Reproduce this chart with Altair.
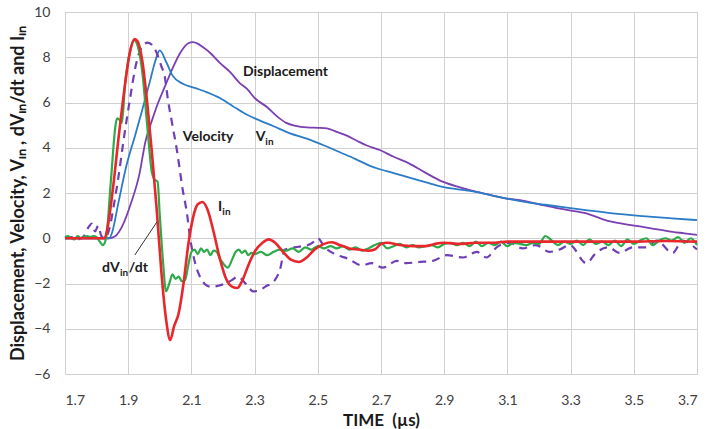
import altair as alt
import pandas as pd

# ---------------- data ----------------
disp_t = [1.70, 1.75, 1.80, 1.84, 1.86, 1.88, 1.91, 1.935, 1.955, 1.975, 1.995, 2.016, 2.04, 2.065,
          2.09, 2.105, 2.12, 2.136, 2.159, 2.19, 2.222, 2.253, 2.276, 2.30, 2.339, 2.37, 2.40, 2.43,
          2.465, 2.50, 2.529, 2.56, 2.59, 2.625, 2.655, 2.696, 2.74, 2.79, 2.84, 2.895, 2.95, 3.003,
          3.05, 3.10, 3.14, 3.20, 3.25, 3.288, 3.35, 3.40, 3.433, 3.48, 3.528, 3.58, 3.623, 3.66, 3.70]
disp_v = [0.0, 0.0, 0.0, 0.0, 0.1, 0.5, 1.6, 2.8, 4.3, 5.2, 6.0, 6.7, 7.5, 8.2,
          8.62, 8.67, 8.6, 8.45, 8.2, 7.75, 7.35, 6.86, 6.6, 6.2, 5.8, 5.4, 5.1, 4.97,
          4.9, 4.88, 4.86, 4.7, 4.55, 4.3, 4.1, 3.9, 3.6, 3.3, 2.9, 2.5, 2.25, 2.05,
          1.9, 1.75, 1.68, 1.5, 1.35, 1.25, 1.1, 0.85, 0.72, 0.6, 0.5, 0.38, 0.28, 0.22, 0.15]

vin_t = [1.70, 1.75, 1.80, 1.84, 1.85, 1.868, 1.896, 1.921, 1.945, 1.97, 1.985, 2.0, 2.02, 2.04,
         2.07, 2.11, 2.15, 2.19, 2.23, 2.27, 2.317, 2.36, 2.41, 2.465, 2.52, 2.57, 2.62, 2.665,
         2.696, 2.74, 2.79, 2.84, 2.895, 2.95, 3.0, 3.05, 3.107, 3.16, 3.22, 3.288, 3.36, 3.433,
         3.528, 3.62, 3.70]
vin_v = [0.0, 0.0, 0.0, 0.0, 0.3, 1.5, 3.3, 4.5, 5.7, 7.0, 7.8, 8.3, 7.8, 7.2,
         6.85, 6.65, 6.45, 6.2, 5.85, 5.5, 5.2, 4.95, 4.65, 4.4, 4.1, 3.8, 3.5, 3.2,
         3.05, 2.88, 2.68, 2.48, 2.27, 2.15, 2.05, 1.9, 1.73, 1.6, 1.48, 1.35, 1.22, 1.1,
         0.98, 0.88, 0.8]

vel_t = [1.70, 1.72, 1.74, 1.76, 1.775, 1.785, 1.795, 1.805, 1.815, 1.825, 1.84, 1.855, 1.868,
         1.885, 1.905, 1.925, 1.945, 1.962, 1.975, 1.99, 2.005, 2.015, 2.026, 2.04, 2.054, 2.073,
         2.086, 2.095, 2.11, 2.133, 2.15, 2.165, 2.185, 2.206, 2.228, 2.247, 2.265, 2.28, 2.295,
         2.315, 2.333, 2.364, 2.38, 2.396, 2.427, 2.469, 2.488, 2.50, 2.522, 2.554, 2.595, 2.64,
         2.67, 2.706, 2.75, 2.78, 2.82, 2.864, 2.908, 2.96, 3.003, 3.034, 3.066, 3.107, 3.148,
         3.19, 3.233, 3.265, 3.297, 3.35, 3.38, 3.42, 3.455, 3.496, 3.54, 3.572, 3.623, 3.654, 3.70]
vel_v = [0.0, 0.05, -0.05, 0.1, 0.5, 0.65, 0.3, 0.55, 0.1, 0.0, 0.4, 1.5, 2.6,
         4.3, 6.1, 7.7, 8.5, 8.65, 8.55, 8.2, 7.6, 7.2, 6.1, 5.0, 3.9, 2.1,
         1.1, 0.1, -1.0, -1.85, -2.1, -2.15, -2.1, -2.0, -1.85, -1.7, -1.9, -2.15, -2.35,
         -2.3, -2.15, -1.85, -1.4, -0.5, -0.4, -0.3, -0.15, 0.0, -0.4, -0.7, -0.9, -1.2,
         -1.1, -1.3, -1.0, -1.1, -1.05, -1.0, -0.75, -0.85, -0.6, -0.85, -0.4, -0.2, -0.45,
         -0.3, -0.6, -0.5, -0.3, -1.1, -0.65, -0.4, -0.65, -0.4, -0.4, -0.1, -0.65, -0.1, -0.5]

dvdt_t = [1.70, 1.71, 1.72, 1.73, 1.74, 1.75, 1.76, 1.77, 1.78, 1.79, 1.80, 1.81, 1.82, 1.83,
          1.845, 1.86, 1.865, 1.875, 1.88, 1.89, 1.905, 1.92, 1.93, 1.945, 1.96, 1.975, 1.983,
          1.993, 2.0, 2.01, 2.02, 2.03, 2.04, 2.05, 2.06, 2.07, 2.08, 2.09, 2.10, 2.11, 2.12,
          2.13, 2.14, 2.15, 2.16, 2.17, 2.18, 2.19, 2.20, 2.215, 2.23, 2.24, 2.25, 2.26, 2.27,
          2.28, 2.29, 2.30, 2.32, 2.34, 2.36, 2.38, 2.40, 2.42, 2.44, 2.46, 2.48, 2.50, 2.52,
          2.54, 2.56, 2.58, 2.60, 2.62, 2.64, 2.66, 2.68, 2.70, 2.72, 2.74, 2.76, 2.78, 2.80,
          2.82, 2.84, 2.86, 2.88, 2.90, 2.92, 2.94, 2.96, 2.98, 3.00, 3.02, 3.04, 3.06, 3.08,
          3.10, 3.12, 3.14, 3.16, 3.18, 3.20, 3.22, 3.24, 3.26, 3.28, 3.30, 3.32, 3.34, 3.36,
          3.38, 3.40, 3.42, 3.44, 3.46, 3.48, 3.50, 3.52, 3.54, 3.56, 3.58, 3.60, 3.62, 3.64,
          3.66, 3.68, 3.70]
dvdt_v = [0.05, 0.1, 0.0, -0.05, 0.1, 0.0, 0.05, 0.1, 0.05, 0.1, 0.05, -0.15, -0.3, 0.0,
          2.5, 5.0, 5.3, 5.2, 5.1, 6.8, 8.2, 8.75, 8.5, 7.3, 5.0, 2.9, 2.6,
          2.5, 1.0, -1.0, -2.35, -2.0, -1.6, -1.8, -1.7, -1.9, -1.85, -1.2, -0.6, -0.5, -0.7,
          -0.45, -0.6, -0.5, -0.75, -0.55, -0.6, -0.9, -1.1, -1.3, -0.9, -0.6, -0.5, -0.65, -0.55,
          -0.75, -0.65, -0.7, -0.6, -0.75, -0.6, -0.5, -0.55, -0.45, -0.6, -0.4, -0.5, -0.35, -0.45,
          -0.35, -0.45, -0.35, -0.5, -0.4, -0.55, -0.45, -0.3, -0.2, -0.45, -0.35, -0.25, -0.4, -0.3,
          -0.4, -0.35, -0.3, -0.4, -0.25, -0.2, -0.3, -0.2, -0.35, -0.15, -0.35, -0.2, -0.3, -0.15,
          -0.35, -0.2, -0.25, -0.3, -0.2, -0.25, 0.1, -0.1, -0.3, -0.15, -0.25, -0.1, -0.3, -0.05,
          -0.25, -0.15, -0.3, -0.1, -0.35, -0.05, -0.25, -0.1, 0.0, -0.3, -0.1, 0.0, -0.1, 0.05,
          -0.2, 0.0, -0.3]

iin_t = [1.70, 1.75, 1.80, 1.825, 1.835, 1.85, 1.87, 1.89, 1.905, 1.92, 1.93, 1.945, 1.96,
         1.975, 1.99, 2.005, 2.02, 2.033, 2.045, 2.06, 2.075, 2.09, 2.105, 2.12, 2.135, 2.15,
         2.17, 2.19, 2.21, 2.23, 2.245, 2.26, 2.28, 2.30, 2.325, 2.345, 2.365, 2.39, 2.415,
         2.44, 2.465, 2.49, 2.52, 2.545, 2.57, 2.60, 2.63, 2.66, 2.68, 2.70, 2.72, 2.76, 2.80,
         2.84, 2.87, 2.90, 2.95, 3.0, 3.05, 3.1, 3.2, 3.3, 3.4, 3.5, 3.6, 3.7]
iin_v = [0.0, 0.0, 0.0, 0.0, 0.5, 2.0, 4.5, 6.8, 8.2, 8.8, 8.7, 7.8, 6.0,
         3.8, 1.3, -1.5, -3.6, -4.5, -3.9, -3.3, -2.0, -0.3, 0.9, 1.5, 1.6, 1.3,
         0.3, -0.9, -1.8, -2.15, -2.2, -1.9, -1.2, -0.6, -0.2, -0.05, -0.2, -0.6, -0.95,
         -1.05, -0.85, -0.5, -0.25, -0.18, -0.3, -0.45, -0.5, -0.55, -0.5, -0.25, -0.2, -0.3, -0.35,
         -0.35, -0.25, -0.2, -0.25, -0.2, -0.2, -0.15, -0.15, -0.15, -0.15, -0.15, -0.12, -0.15]

x_ticks = [1.7, 1.9, 2.1, 2.3, 2.5, 2.7, 2.9, 3.1, 3.3, 3.5, 3.7]
y_ticks = [-6, -4, -2, 0, 2, 4, 6, 8, 10]

# annotation labels (data coordinates)
lab_text = ["Displacement", "Velocity", "V", "I", "dV", "/dt"]
lab_t = [2.263, 2.073, 2.304, 2.184, 1.817, 1.902]
lab_v = [7.35, 4.47, 4.47, 1.37, -1.33, -1.33]
sub_text = ["in", "in", "in"]
sub_t = [2.334, 2.198, 1.874]
sub_v = [4.27, 1.17, -1.53]
arrow_t = [1.921]
arrow_v = [-0.74]
arrow_t2 = [1.991]
arrow_v2 = [0.72]

# ---------------- build ----------------
series = [
    ("Displacement", disp_t, disp_v, "#7b3fb2", 1.8, None),
    ("Vin", vin_t, vin_v, "#2a7cc7", 1.8, None),
    ("Velocity", vel_t, vel_v, "#6e3fb5", 2.2, [8, 6]),
    ("dVin/dt", dvdt_t, dvdt_v, "#2eaa4a", 2.2, None),
    ("Iin", iin_t, iin_v, "#e8262b", 2.6, None),
]

FONT = "Lato"
xs = alt.Scale(domain=[1.7, 3.7], nice=False, zero=False)
ys = alt.Scale(domain=[-6, 10], nice=False)

X = alt.X("t:Q", scale=xs,
          axis=alt.Axis(values=x_ticks, format=".1f", title="TIME\u00a0\u00a0(\u00b5s)",
                        grid=True, gridColor="#d0d0d0", ticks=False, domain=False,
                        labelFont=FONT, labelFontSize=14, labelColor="#404040",
                        labelPadding=19, titleFont=FONT, titleFontSize=17,
                        titleFontWeight="bold", titleColor="#1a1a1a", titlePadding=5))
Y = alt.Y("v:Q", scale=ys,
          axis=alt.Axis(values=y_ticks, format="d",
                        title="Displacement, Velocity, V\u1d62\u2099 , dV\u1d62\u2099/dt and I\u1d62\u2099",
                        grid=True, gridColor="#d0d0d0", ticks=False, domain=False,
                        labelFont=FONT, labelFontSize=14, labelColor="#404040",
                        labelPadding=15, titleFont=FONT, titleFontSize=18,
                        titleFontWeight="bold", titleColor="#1a1a1a", titlePadding=6))

layers = []
for name, t, v, col, sw, dash in series:
    df = pd.DataFrame({"t": t, "v": v})
    mark_kwargs = dict(color=col, strokeWidth=sw, interpolate="monotone")
    if dash is not None:
        mark_kwargs["strokeDash"] = dash
    layers.append(alt.Chart(df).mark_line(**mark_kwargs).encode(x=X, y=Y))

lab_df = pd.DataFrame({"t": lab_t, "v": lab_v, "txt": lab_text})
sub_df = pd.DataFrame({"t": sub_t, "v": sub_v, "txt": sub_text})
arr_df = pd.DataFrame({"t": arrow_t, "v": arrow_v, "t2": arrow_t2, "v2": arrow_v2})

arrow = alt.Chart(arr_df).mark_rule(color="#333333", strokeWidth=1).encode(
    x=X, y=Y, x2="t2:Q", y2="v2:Q")
labels = alt.Chart(lab_df).mark_text(font=FONT, fontSize=14, fontWeight="bold", color="#1a1a1a",
                                     align="left", baseline="middle").encode(
    x=X, y=Y, text="txt:N")
subs = alt.Chart(sub_df).mark_text(font=FONT, fontSize=10, fontWeight="bold", color="#1a1a1a",
                                   align="left", baseline="middle").encode(
    x=X, y=Y, text="txt:N")

chart = alt.layer(*layers, arrow, labels, subs).properties(
    width=632, height=362,
    padding={"left": 65, "top": 12, "right": 9, "bottom": 55},
    autosize=alt.AutoSizeParams(type="none"),
    background="white",
).configure_view(stroke="#c8c8c8", strokeWidth=1)

chart.save("out.html", embed_options={"renderer": "svg", "actions": False})
